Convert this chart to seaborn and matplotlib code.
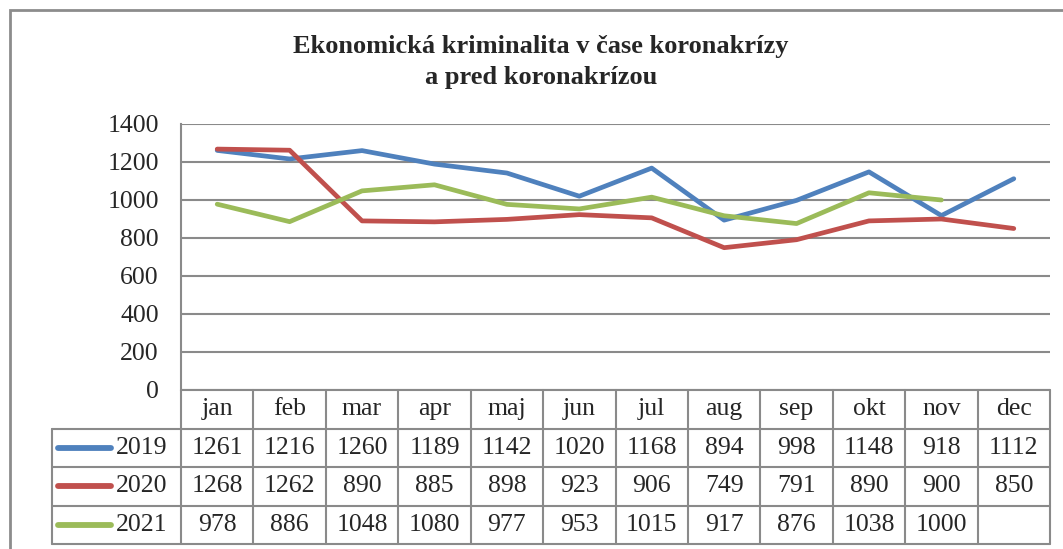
import pandas as pd
import seaborn as sns
import matplotlib.pyplot as plt
from matplotlib.patches import Rectangle

# data
months = ['jan', 'feb', 'mar', 'apr', 'maj', 'jun', 'jul', 'aug', 'sep', 'okt', 'nov', 'dec']
years = ['2019', '2020', '2021']
v2019 = [1261, 1216, 1260, 1189, 1142, 1020, 1168, 894, 998, 1148, 918, 1112]
v2020 = [1268, 1262, 890, 885, 898, 923, 906, 749, 791, 890, 900, 850]
v2021 = [978, 886, 1048, 1080, 977, 953, 1015, 917, 876, 1038, 1000, None]
colors = ['#4F81BD', '#C0504D', '#9BBB59']

rows = []
for yr, vals in zip(years, [v2019, v2020, v2021]):
    for m, v in zip(months, vals):
        if v is not None:
            rows.append({'month': m, 'year': yr, 'value': v})
df = pd.DataFrame(rows)

sns.set_style('white')
plt.rcParams['font.family'] = ['Liberation Serif', 'DejaVu Serif']

W, H = 1063, 549
fig = plt.figure(figsize=(W / 100, H / 100), dpi=100)

# outer chart border
fig.patches.append(Rectangle((10 / W, -0.05), 1.2, 1 - 10 / H + 0.05, transform=fig.transFigure,
                             fill=False, edgecolor='#8c8c8c', linewidth=2, zorder=0))

# main plot area
ax = fig.add_axes([181 / W, 1 - 390 / H, (1050 - 181) / W, (390 - 124) / H])
sns.lineplot(data=df, x='month', y='value', hue='year', palette=colors,
             linewidth=3.4, sort=False, legend=False, ax=ax)
ax.set_xlim(-0.5, 11.5)
ax.set_ylim(0, 1400)
ax.set_yticks(range(0, 1401, 200))
ax.set_xticks([])
ax.set_xlabel('')
ax.set_ylabel('')
ax.grid(axis='y', color='#8a8a8a', linewidth=1.5)
ax.set_axisbelow(True)
for s in ['top', 'right', 'bottom']:
    ax.spines[s].set_visible(False)
ax.spines['left'].set_color('#8a8a8a')
ax.spines['left'].set_linewidth(1.5)
ax.tick_params(axis='y', length=0, pad=16, labelsize=18.5)

# title
fig.text(541 / W, 1 - 47 / H, 'Ekonomická kriminalita v čase koronakrízy', ha='center', va='center',
         fontsize=19, fontweight='bold')
fig.text(541 / W, 1 - 78 / H, 'a pred koronakrízou', ha='center', va='center',
         fontsize=19, fontweight='bold')

# data table below the plot
col_w = (1050 - 181) / 12
lab_w = (181 - 52) / col_w
tab = fig.add_axes([52 / W, 1 - 544 / H, (1050 - 52) / W, (544 - 390) / H])
tab.set_xlim(-0.5 - lab_w, 11.5)
tab.set_ylim(4, 0)
tab.axis('off')
lc = '#8a8a8a'
lw = 1.5
# horizontal lines
tab.plot([-0.5, 11.5], [0, 0], color=lc, lw=lw, clip_on=False)
for r in [1, 2, 3, 4]:
    tab.plot([-0.5 - lab_w, 11.5], [r, r], color=lc, lw=lw, clip_on=False)
# vertical lines
tab.plot([-0.5 - lab_w, -0.5 - lab_w], [1, 4], color=lc, lw=lw, clip_on=False)
for i in range(13):
    tab.plot([i - 0.5, i - 0.5], [0, 4], color=lc, lw=lw, clip_on=False)

for i, m in enumerate(months):
    tab.text(i, 0.5, m, ha='center', va='center', fontsize=18.5)
for r, (yr, vals, c) in enumerate(zip(years, [v2019, v2020, v2021], colors)):
    y = r + 1.5
    tab.plot([-0.5 - lab_w + 0.08, -0.5 - lab_w + 0.82], [y, y], color=c, lw=4.2,
             solid_capstyle='round', clip_on=False)
    tab.text(-0.5 - 0.19, y, yr, ha='right', va='center', fontsize=18.5)
    for i, v in enumerate(vals):
        if v is not None:
            tab.text(i, y, str(v), ha='center', va='center', fontsize=18.5)

fig.savefig('out.png', dpi=100)
